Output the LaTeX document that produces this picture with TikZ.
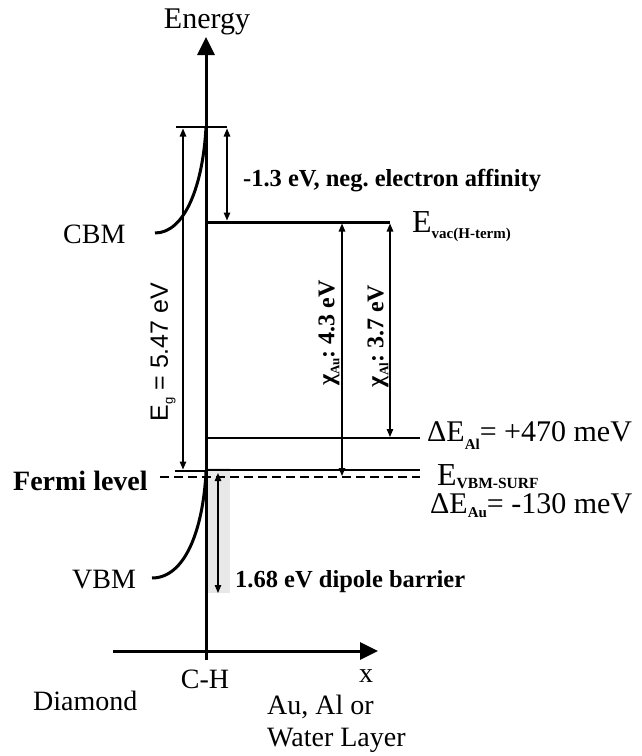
\documentclass[tikz,border=0pt]{standalone}
\usepackage{fontspec}
\setmainfont{Liberation Serif}
\newfontfamily\arialf{Liberation Sans}
\usetikzlibrary{arrows.meta}
\newcommand{\fsz}[1]{\fontsize{#1}{#1}\selectfont}
\newcommand{\lowsub}[3]{\raisebox{-#1}{\fontsize{#2}{#2}\selectfont\bfseries #3}}
\frenchspacing
\begin{document}
\begin{tikzpicture}[x=1pt,y=-1pt,
  axis/.style={line width=3pt},
  band/.style={line width=3pt},
  bar/.style={line width=2.5pt},
  level/.style={line width=1.5pt},
  fermi/.style={line width=2.5pt, dash pattern=on 9pt off 5pt},
  dim/.style={line width=1.3pt,{Triangle[length=8pt,width=6.5pt]}-{Triangle[length=8pt,width=6.5pt]}},
  bigtip/.style={-{Triangle[length=18pt,width=17pt]}},
  lbl/.style={inner sep=0pt, font=\fsz{28}},
  blbl/.style={inner sep=0pt, font=\fsz{24.5}\bfseries},
]
\useasboundingbox (0,0) rectangle (641,756);
% shaded dipole region
\fill[gray!18] (207,468) rectangle (230,593);
% coordinates
\coordinate (ybot) at (206,660);
\coordinate (ytop) at (206,37);
\coordinate (xl) at (113,651);
\coordinate (xr) at (378,651);
\coordinate (cbsL) at (176,127);
\coordinate (cbsR) at (227,127);
\coordinate (evacL) at (206,222);
\coordinate (evacR) at (390,222);
\coordinate (vbsL) at (175,471);
\coordinate (vbsR) at (208,471);
\coordinate (alL) at (206,438);
\coordinate (alR) at (420,438);
\coordinate (surfL) at (206,470);
\coordinate (surfR) at (420,470);
\coordinate (fL) at (160,477);
\coordinate (fR) at (420,477);
\coordinate (cbmS) at (155,233);
\coordinate (cbmE) at (206,127);
\coordinate (vbmS) at (152,578);
\coordinate (vbmE) at (206,472);
% axes
\draw[axis,bigtip] (ybot) -- (ytop);
\draw[axis,bigtip] (xl) -- (xr);
% levels
\draw[bar] (cbsL) -- (cbsR);
\draw[band] (evacL) -- (evacR);
\draw[bar] (vbsL) -- (vbsR);
\draw[level] (alL) -- (alR);
\draw[level] (surfL) -- (surfR);
\draw[fermi] (fL) -- (fR);
% band bending curves
\draw[band] (cbmS) .. controls (185,233) and (203,185) .. (cbmE);
\draw[band] (vbmS) .. controls (185,578) and (203,530) .. (vbmE);
% dimension arrows
\coordinate (egT) at (183,128.5);
\coordinate (egB) at (183,469.5);
\coordinate (neaT) at (227,128.5);
\coordinate (neaB) at (227,220.5);
\coordinate (auT) at (342,223.5);
\coordinate (auB) at (342,476);
\coordinate (alT) at (390,223.5);
\coordinate (alB) at (390,437);
\coordinate (dipT) at (218,473);
\coordinate (dipB) at (218,593);
\draw[dim] (egT) -- (egB);
\draw[dim] (neaT) -- (neaB);
\draw[dim] (auT) -- (auB);
\draw[dim] (alT) -- (alB);
\draw[dim] (dipT) -- (dipB);
% labels
\node[inner sep=0pt, anchor=base, font=\fsz{30}] (energy) at (207,28) {Energy};
\node[lbl, anchor=base west] (cbm) at (63,243) {CBM};
\node[lbl, anchor=base west] (vbm) at (72,588) {VBM};
\node[inner sep=0pt, anchor=base west, font=\fsz{28}\bfseries] (fermi) at (13,490) {Fermi level};
\node[lbl, anchor=base west] (diamond) at (33,710) {Diamond};
\node[lbl, anchor=base] (ch) at (205,688) {C-H};
\node[lbl, anchor=base] (xlab) at (366,682) {x};
\node[inner sep=0pt, anchor=base west, align=left, font={\fontsize{28}{32}\selectfont}] (layer) at (267,746) {Au, Al or\\Water Layer};
\node[blbl, anchor=base west] (nea) at (243,186) {-1.3 eV, neg. electron affinity};
\node[blbl, anchor=base west] (dip) at (235,587) {1.68 eV dipole barrier};
\node[inner sep=0pt, anchor=base west, font=\fsz{32}] (evac) at (412,232) {E\lowsub{6pt}{15}{vac(H-term)}};
\node[inner sep=0pt, anchor=base west, font=\fsz{30}] (dal) at (427,441) {ΔE\lowsub{8pt}{15}{Al}= +470 meV};
\node[inner sep=0pt, anchor=base west, font=\fsz{32}] (esurf) at (437,485) {E\lowsub{3pt}{15.5}{VBM-SURF}};
\node[inner sep=0pt, anchor=base west, font=\fsz{30}] (dau) at (430,513) {ΔE\lowsub{4pt}{15}{Au}= -130 meV};
\node[inner sep=0pt, rotate=90, font=\arialf\fsz{25}] (eg) at (163,352) {E\raisebox{-5pt}{\fsz{13}g} = 5.47 eV};
\node[inner sep=0pt, rotate=90, font=\fsz{24}\bfseries] (chiau) at (329,333) {χ\lowsub{5pt}{13}{Au}: 4.3 eV};
\node[inner sep=0pt, rotate=90, font=\fsz{24}\bfseries] (chial) at (378,336) {χ\lowsub{5pt}{13}{Al}: 3.7 eV};
\end{tikzpicture}
\end{document}
